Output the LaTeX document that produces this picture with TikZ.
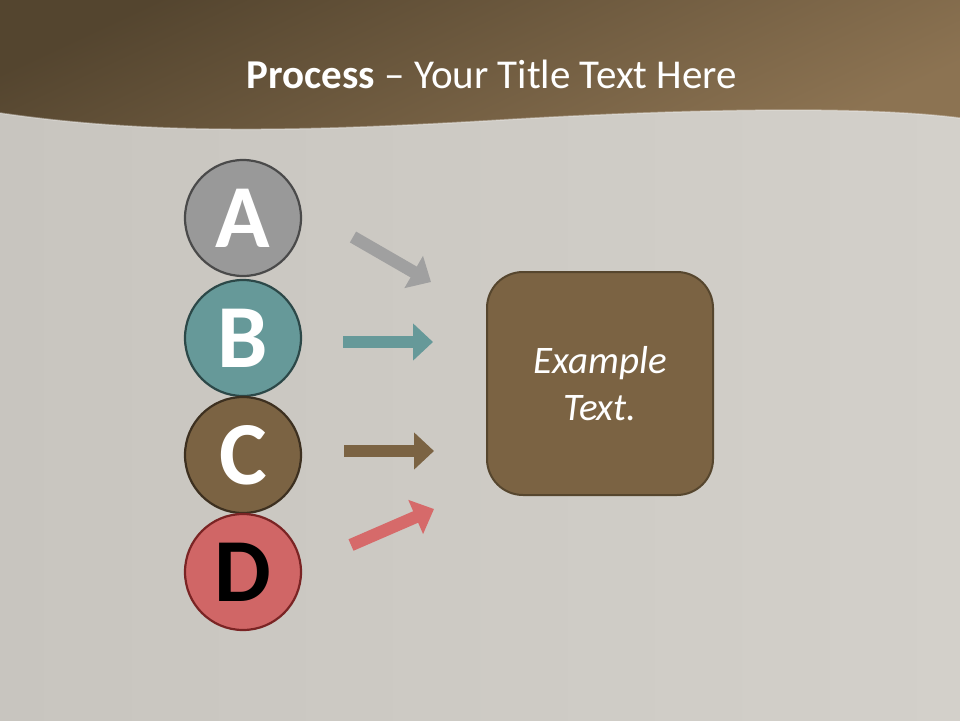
\documentclass[tikz,border=0pt]{standalone}
\usepackage{fontspec}
\setmainfont{Carlito}
\usetikzlibrary{arrows.meta}
\definecolor{bgL}{HTML}{C8C5BF}
\definecolor{bgR}{HTML}{D3D0CA}
\definecolor{hdD}{HTML}{54452F}
\definecolor{hdL}{HTML}{8C7352}
\definecolor{aFill}{HTML}{999999}
\definecolor{aLine}{HTML}{4A4A4A}
\definecolor{bFill}{HTML}{669999}
\definecolor{bLine}{HTML}{2C4848}
\definecolor{cFill}{HTML}{7B6343}
\definecolor{cLine}{HTML}{3D3020}
\definecolor{dFill}{HTML}{D06666}
\definecolor{dLine}{HTML}{7A2424}
\definecolor{aArr}{HTML}{A0A0A0}
\definecolor{dArr}{HTML}{D66A6A}
\definecolor{boxLine}{HTML}{56462E}
\tikzset{
  letter/.style={circle, minimum size=116pt, inner sep=0pt, line width=2.2pt,
    font=\fontsize{90}{90}\selectfont\bfseries, text=white},
  flow/.style={line width=12.5pt, -{Triangle[width=36pt,length=20pt]}},
  mainbox/.style={draw=boxLine, fill=cFill, line width=2pt, rounded corners=36pt,
    minimum width=226pt, minimum height=223pt, inner sep=0pt, align=center,
    text=white, font=\fontsize{39}{47}\selectfont\itshape},
  titletext/.style={text=white, font=\fontsize{41}{43}\selectfont}
}
\begin{document}
\begin{tikzpicture}[x=1pt,y=-1pt]
\useasboundingbox (0,0) rectangle (960,720);
\shade[left color=bgL, right color=bgR] (0,0) rectangle (960,720);
\shade[top color=hdD, bottom color=hdL, shading angle=25]
  (0,0) -- (960,0) -- (960,118)
  .. controls (850,104) and (650,111) .. (500,120)
  .. controls (300,132) and (150,135) .. (0,113) -- cycle;
\draw[white, opacity=0.35, line width=1.5pt]
  (960,118) .. controls (850,104) and (650,111) .. (500,120)
  .. controls (300,132) and (150,135) .. (0,113);
\node[titletext] (title) at (492,74) {\textbf{Process} – Your Title Text Here};

\node[letter, fill=aFill, draw=aLine] (A) at (243,218) {A};
\node[letter, fill=bFill, draw=bLine] (B) at (243,338) {B};
\node[letter, fill=cFill, draw=cLine] (C) at (243,455) {C};
\node[letter, fill=dFill, draw=dLine, text=black] (D) at (243,572) {D};

\node[mainbox] (box) at (600,383.5) {Example\\Text.};

\coordinate (a1) at (353,237);
\coordinate (a2) at (431,282);
\coordinate (b1) at (343,342);
\coordinate (b2) at (433,342);
\coordinate (c1) at (344,451);
\coordinate (c2) at (434,451);
\coordinate (d1) at (351,545);
\coordinate (d2) at (434,509);
\draw[flow, aArr] (a1) -- (a2);
\draw[flow, bFill] (b1) -- (b2);
\draw[flow, cFill] (c1) -- (c2);
\draw[flow, dArr] (d1) -- (d2);
\end{tikzpicture}
\end{document}
